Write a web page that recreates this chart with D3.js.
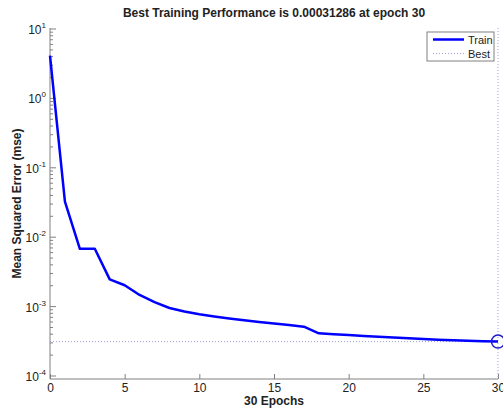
<!doctype html>
<html lang="en">
<head>
<meta charset="utf-8">
<title>Best Training Performance</title>
<style>
  body { margin: 0; background: #fff; font-family: 'Liberation Sans', Arial, sans-serif; }
  svg text { fill: #222; }
  .axis path, .axis line { stroke: #808080; }
</style>
<script src="https://cdn.jsdelivr.net/npm/d3@7"></script>
</head>
<body>
<svg id="chart"></svg>
<script>
// training performance (mse) per epoch
var epochs = d3.range(0, 31);
var trainMse = [4.12, 0.0325, 0.00681, 0.00681, 0.00247, 0.00203, 0.00147, 0.00116, 0.000954, 0.000849,
  0.000774, 0.000720, 0.000674, 0.000635, 0.000600, 0.000571, 0.000543, 0.000513, 0.000412, 0.000399,
  0.000390, 0.000377, 0.000367, 0.000359, 0.000349, 0.000341, 0.000334, 0.000327, 0.000321, 0.000316,
  0.00031286];
var bestEpoch = 30;
var bestPerf = 0.00031286;
var xTicks = [0, 5, 10, 15, 20, 25, 30];
var yDecades = [-4, -3, -2, -1, 0, 1];

var W = 503, H = 408;
var svg = d3.select("#chart").attr("width", W).attr("height", H);

var pLeft = 50, pRight = 498, pTop = 28, pBottom = 379;

var x = d3.scaleLinear().domain([0, 30]).range([pLeft, pRight]);
var y = d3.scaleLog().domain([1e-4, 10]).range([376, 29]);

// x axis
var gx = svg.append("g").attr("class", "axis")
  .attr("transform", "translate(0," + pBottom + ")")
  .call(d3.axisBottom(x).tickValues(xTicks).tickSize(-5).tickPadding(4).tickSizeOuter(0));
gx.select(".domain").attr("d", "M" + pLeft + ",0H" + pRight);
gx.selectAll("text").style("font-size", "12px").attr("fill", "#222");

// y axis, major + minor log ticks
var minor = [];
yDecades.forEach(function (d) {
  if (d < 1) for (var m = 2; m < 10; m++) minor.push(m * Math.pow(10, d));
});
var gy = svg.append("g").attr("class", "axis")
  .attr("transform", "translate(" + pLeft + ",0)");
gy.append("line").attr("x1", 0).attr("x2", 0).attr("y1", pTop).attr("y2", pBottom);
gy.selectAll(".minor").data(minor).join("line")
  .attr("x1", 0).attr("x2", 3)
  .attr("y1", function (d) { return y(d); }).attr("y2", function (d) { return y(d); });
gy.selectAll(".major").data(yDecades).join("line")
  .attr("x1", 0).attr("x2", 6)
  .attr("y1", function (d) { return y(Math.pow(10, d)); })
  .attr("y2", function (d) { return y(Math.pow(10, d)); });
var lab = gy.selectAll(".lab").data(yDecades).join("text")
  .attr("x", -4)
  .attr("y", function (d) { return y(Math.pow(10, d)) + 5; })
  .attr("text-anchor", "end")
  .style("font-size", "12px");
lab.append("tspan").text("10");
lab.append("tspan").attr("dy", -6).style("font-size", "8px").text(function (d) { return d; });

// best lines
svg.append("line")
  .attr("x1", pLeft).attr("x2", pRight)
  .attr("y1", y(bestPerf)).attr("y2", y(bestPerf))
  .attr("stroke", "#a0a0dc").attr("stroke-width", 1).attr("stroke-dasharray", "1,2");
svg.append("line")
  .attr("x1", x(bestEpoch)).attr("x2", x(bestEpoch))
  .attr("y1", pTop).attr("y2", pBottom)
  .attr("stroke", "#a0a0dc").attr("stroke-width", 1).attr("stroke-dasharray", "1,2");

// train line
var line = d3.line()
  .x(function (d, i) { return x(epochs[i]); })
  .y(function (d) { return y(d); });
svg.append("path")
  .datum(trainMse)
  .attr("fill", "none")
  .attr("stroke", "#0000ff")
  .attr("stroke-width", 2.5)
  .attr("stroke-linejoin", "round")
  .attr("d", line);

svg.append("circle")
  .attr("cx", x(bestEpoch)).attr("cy", y(bestPerf)).attr("r", 6.5)
  .attr("fill", "none").attr("stroke", "#1c1ccc").attr("stroke-width", 1.5);

// legend
var lg = svg.append("g").attr("transform", "translate(427,32)");
lg.append("rect").attr("width", 67).attr("height", 29)
  .attr("fill", "#fff").attr("stroke", "#808080").attr("stroke-width", 1);
lg.append("line").attr("x1", 6).attr("x2", 37).attr("y1", 7.5).attr("y2", 7.5)
  .attr("stroke", "#0000ff").attr("stroke-width", 2.5);
lg.append("line").attr("x1", 6).attr("x2", 37).attr("y1", 21.5).attr("y2", 21.5)
  .attr("stroke", "#a0a0dc").attr("stroke-width", 1).attr("stroke-dasharray", "1,2");
lg.append("text").attr("x", 41).attr("y", 11.5)
  .style("font-size", "11px").text("Train");
lg.append("text").attr("x", 41).attr("y", 25.5)
  .style("font-size", "11px").text("Best");

// titles
svg.append("text").attr("x", 274).attr("y", 17).attr("text-anchor", "middle")
  .style("font-size", "12px").style("font-weight", "bold")
  .text("Best Training Performance is 0.00031286 at epoch 30");
svg.append("text").attr("x", 274).attr("y", 405).attr("text-anchor", "middle")
  .style("font-size", "12px").style("font-weight", "bold")
  .text("30 Epochs");
svg.append("text")
  .attr("transform", "translate(21," + ((pTop + pBottom) / 2) + ") rotate(-90)")
  .attr("text-anchor", "middle")
  .style("font-size", "12px").style("font-weight", "bold")
  .text("Mean Squared Error  (mse)");
</script>
</body>
</html>
